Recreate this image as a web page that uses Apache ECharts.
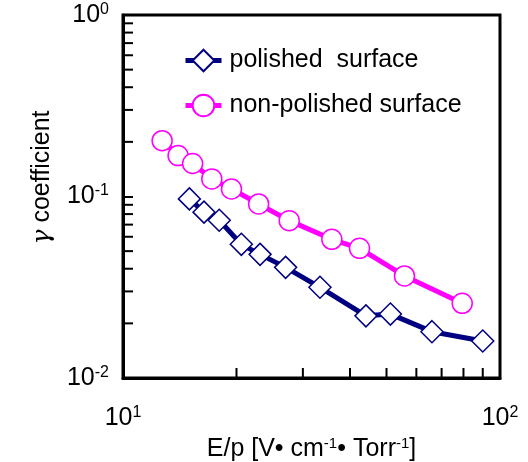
<!DOCTYPE html>
<html>
<head>
<meta charset="utf-8">
<script src="https://cdn.jsdelivr.net/npm/echarts@6/dist/echarts.min.js"></script>
<style>
  html, body { margin: 0; padding: 0; background: #fff; }
  #main { width: 528px; height: 462px; }
</style>
</head>
<body>
<div id="main"></div>
<script>
// 数据
var polishedX = [15, 16.4, 18, 20.6, 23.1, 27, 33.3, 44.1, 51.2, 66, 90];
var polishedY = [0.097, 0.082, 0.074, 0.0545, 0.048, 0.0407, 0.0316, 0.022, 0.0225, 0.018, 0.016];
var roughX = [12.7, 14, 15.3, 17.2, 19.4, 22.9, 27.6, 35.8, 42.4, 55.8, 79.4];
var roughY = [0.203, 0.168, 0.152, 0.125, 0.11, 0.091, 0.0736, 0.0581, 0.0518, 0.0365, 0.0258];
var minorX = [20, 30, 40, 50, 60, 70, 80, 90];
var minorY = [0.02, 0.03, 0.04, 0.05, 0.06, 0.07, 0.08, 0.09, 0.2, 0.3, 0.4, 0.5, 0.6, 0.7, 0.8, 0.9];
var xMin = 10, xMax = 100, yMin = 0.01, yMax = 1;

function zip(a, b) {
  return a.map(function (v, i) { return [v, b[i]]; });
}
function powLabel(v) {
  return '{b|10}{s|' + Math.round(Math.log10(v)) + '}';
}
var labelRich = {
  b: { fontSize: 25, fontFamily: 'Liberation Sans', color: '#000' },
  s: { fontSize: 16, fontFamily: 'Liberation Sans', color: '#000', padding: [0, 0, 11, 0] }
};

var myChart = echarts.init(document.getElementById('main'));
myChart.setOption({
  animation: false,
  grid: {
    left: 123, right: 28, top: 15, bottom: 84,
    outerBoundsMode: 'none',
    show: true, borderColor: '#000', borderWidth: 3
  },
  legend: {
    orient: 'vertical',
    left: 183, top: 48, padding: 0,
    itemWidth: 36, itemHeight: 27, itemGap: 20,
    lineStyle: { width: 5 },
    textStyle: { fontSize: 25, fontFamily: 'Liberation Sans', color: '#000', padding: [0, 0, 0, 3] },
    data: ['polished  surface', 'non-polished surface']
  },
  xAxis: {
    type: 'log', logBase: 10, min: xMin, max: xMax,
    name: '{a|E/p [V• cm}{s|-1}{a|• Torr}{s|-1}{a|]}',
    nameLocation: 'middle', nameGap: 57,
    nameTextStyle: {
      rich: {
        a: { fontSize: 25, fontFamily: 'Liberation Sans', color: '#000' },
        s: { fontSize: 15, fontFamily: 'Liberation Sans', color: '#000', padding: [0, 0, 11, 0] }
      }
    },
    axisLine: { lineStyle: { color: '#000', width: 3 } },
    axisTick: { inside: true, length: 10, lineStyle: { color: '#000', width: 2 } },
    axisLabel: { margin: 27, formatter: powLabel, rich: labelRich },
    splitLine: { show: false }
  },
  yAxis: {
    type: 'log', logBase: 10, min: yMin, max: yMax,
    name: '{g|γ}{t| coefficient}',
    nameLocation: 'middle', nameGap: 68,
    nameTextStyle: {
      padding: [0, 0, 0, 38],
      rich: {
        g: { fontSize: 25, fontFamily: 'DejaVu Serif', fontStyle: 'italic', color: '#000' },
        t: { fontSize: 25, fontFamily: 'Liberation Sans', color: '#000' }
      }
    },
    axisLine: { lineStyle: { color: '#000', width: 3 } },
    axisTick: { inside: true, length: 10, lineStyle: { color: '#000', width: 2 } },
    axisLabel: { margin: 14, formatter: powLabel, rich: labelRich },
    splitLine: { show: false }
  },
  series: [
    {
      name: 'polished  surface', type: 'line',
      data: zip(polishedX, polishedY),
      symbol: 'diamond', symbolSize: 22,
      lineStyle: { color: '#000080', width: 5 },
      itemStyle: { color: '#fff', borderColor: '#000080', borderWidth: 1.5 },
      z: 3
    },
    {
      name: 'non-polished surface', type: 'line',
      data: zip(roughX, roughY),
      symbol: 'circle', symbolSize: 20,
      lineStyle: { color: '#ff00ff', width: 5 },
      itemStyle: { color: '#fff', borderColor: '#ff00ff', borderWidth: 1.5 },
      z: 3
    },
    {
      // x 副刻度
      type: 'custom', silent: true, z: 5,
      data: minorX.map(function (v) { return [v, yMin]; }),
      renderItem: function (params, api) {
        var p = api.coord([api.value(0), api.value(1)]);
        return { type: 'line', shape: { x1: p[0], y1: p[1], x2: p[0], y2: p[1] - 10 },
                 style: { stroke: '#000', lineWidth: 2 } };
      }
    },
    {
      // y 副刻度
      type: 'custom', silent: true, z: 5,
      data: minorY.map(function (v) { return [xMin, v]; }),
      renderItem: function (params, api) {
        var p = api.coord([api.value(0), api.value(1)]);
        return { type: 'line', shape: { x1: p[0], y1: p[1], x2: p[0] + 10, y2: p[1] },
                 style: { stroke: '#000', lineWidth: 2 } };
      }
    }
  ]
});
</script>
</body>
</html>
